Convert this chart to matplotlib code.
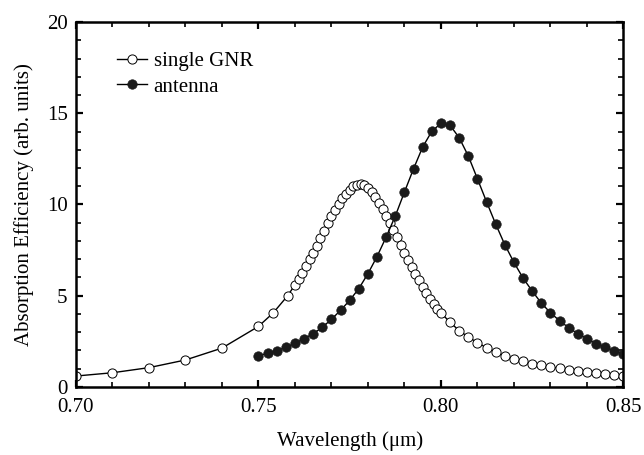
import matplotlib
matplotlib.use('Agg')
import matplotlib.pyplot as plt
from matplotlib.ticker import MultipleLocator

plt.rcParams['font.family'] = ['Liberation Serif', 'DejaVu Serif']

# single GNR (open circles)
gnr_wl = [0.70, 0.71, 0.72, 0.73, 0.74, 0.75, 0.754, 0.758,
          0.760, 0.761, 0.762, 0.763, 0.764, 0.765, 0.766, 0.767, 0.768, 0.769,
          0.770, 0.771, 0.772, 0.773, 0.774, 0.775, 0.776, 0.777, 0.778, 0.779,
          0.780, 0.781, 0.782, 0.783, 0.784, 0.785, 0.786, 0.787, 0.788, 0.789,
          0.790, 0.791, 0.792, 0.793, 0.794, 0.795, 0.796, 0.797, 0.798, 0.799,
          0.800, 0.8025, 0.805, 0.8075, 0.810, 0.8125, 0.815, 0.8175, 0.820,
          0.8225, 0.825, 0.8275, 0.830, 0.8325, 0.835, 0.8375, 0.840, 0.8425,
          0.845, 0.8475, 0.850]
gnr_abs = [0.60, 0.78, 1.06, 1.48, 2.13, 3.32, 4.05, 5.00,
           5.60, 5.93, 6.26, 6.63, 7.00, 7.35, 7.74, 8.16, 8.56, 8.96,
           9.35, 9.70, 10.03, 10.34, 10.60, 10.82, 10.99, 11.09, 11.11, 11.06,
           10.90, 10.68, 10.40, 10.08, 9.74, 9.38, 9.00, 8.60, 8.20, 7.78,
           7.36, 6.96, 6.58, 6.20, 5.84, 5.48, 5.14, 4.82, 4.55, 4.30,
           4.07, 3.54, 3.09, 2.74, 2.43, 2.15, 1.92, 1.70, 1.53,
           1.41, 1.28, 1.19, 1.10, 1.02, 0.93, 0.88, 0.82, 0.77,
           0.71, 0.67, 0.62]

# antenna (filled circles)
ant_wl = [0.7500, 0.7525, 0.7550, 0.7575, 0.7600, 0.7625, 0.7650, 0.7675,
          0.7700, 0.7725, 0.7750, 0.7775, 0.7800, 0.7825, 0.7850, 0.7875,
          0.7900, 0.7925, 0.7950, 0.7975, 0.8000, 0.8025, 0.8050, 0.8075,
          0.8100, 0.8125, 0.8150, 0.8175, 0.8200, 0.8225, 0.8250, 0.8275,
          0.8300, 0.8325, 0.8350, 0.8375, 0.8400, 0.8425, 0.8450, 0.8475,
          0.8500]
ant_abs = [1.70, 1.85, 1.99, 2.17, 2.39, 2.65, 2.92, 3.27,
           3.71, 4.20, 4.75, 5.39, 6.21, 7.15, 8.22, 9.37,
           10.68, 11.96, 13.15, 14.01, 14.45, 14.34, 13.66, 12.66,
           11.41, 10.15, 8.93, 7.80, 6.83, 5.97, 5.26, 4.60,
           4.07, 3.63, 3.25, 2.92, 2.65, 2.37, 2.18, 1.97,
           1.81]

xticks = [0.70, 0.75, 0.80, 0.85]
xtick_labels = ['0.70', '0.75', '0.80', '0.85']

fig = plt.figure(figsize=(6.44, 4.55), dpi=100)
ax = fig.add_axes([0.118, 0.1495, 0.850, 0.8021])

ax.plot(gnr_wl, gnr_abs, color='black', lw=1.0, marker='o', ms=6.6,
        mfc='white', mec='black', mew=0.7, label='single GNR')
ax.plot(ant_wl, ant_abs, color='black', lw=1.0, marker='o', ms=6.8,
        mfc='#1a1a1a', mec='#1a1a1a', mew=0.5, label='antenna')

ax.set_xlim(0.70, 0.85)
ax.set_ylim(0, 20)
ax.set_xticks(xticks)
ax.set_xticklabels(xtick_labels)
ax.xaxis.set_minor_locator(MultipleLocator(0.01))
ax.yaxis.set_major_locator(MultipleLocator(5))
ax.yaxis.set_minor_locator(MultipleLocator(1))

ax.tick_params(which='both', direction='in', top=True, right=True, labelsize=15)
ax.tick_params(axis='x', which='major', pad=8)
ax.tick_params(axis='y', which='major', pad=6)
ax.tick_params(which='major', length=5, width=1.6)
ax.tick_params(which='minor', length=3.5, width=1.2)
for sp in ax.spines.values():
    sp.set_linewidth(1.8)

ax.set_xlabel('Wavelength (μm)', fontsize=15, labelpad=10)
ax.set_ylabel('Absorption Efficiency (arb. units)', fontsize=15, labelpad=9)

ax.legend(loc='upper left', bbox_to_anchor=(0.075, 0.92), frameon=False,
          fontsize=15, handlelength=1.45, handletextpad=0.3, labelspacing=0.3,
          borderaxespad=0, borderpad=0)

fig.savefig('out.png', dpi=100)
